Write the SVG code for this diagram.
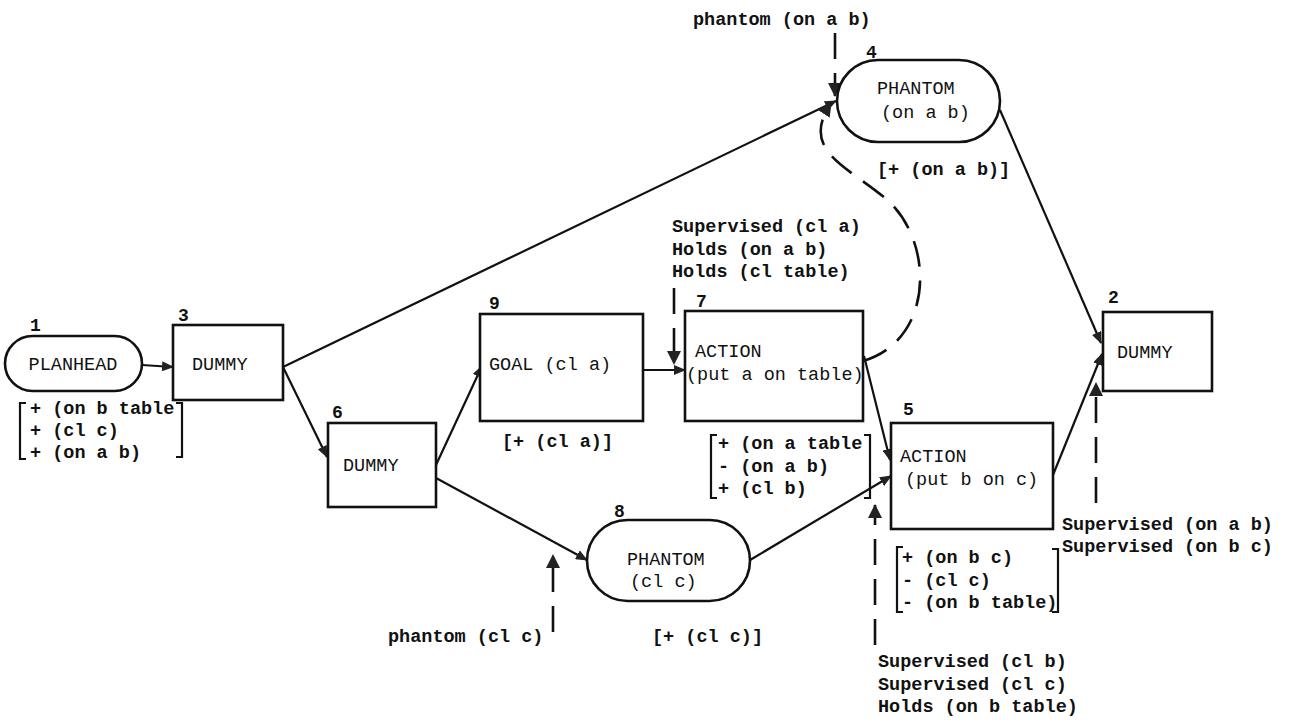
<svg xmlns="http://www.w3.org/2000/svg" width="1290" height="724" viewBox="0 0 1290 724">
<style>
.node{fill:#fff;stroke:#111;stroke-width:2.6}
.lbl{font-family:"Liberation Mono",monospace;font-size:18.5px;fill:#111}
.ann{font-family:"Liberation Mono",monospace;font-size:18.5px;font-weight:bold;fill:#111}
.num{font-family:"Liberation Mono",monospace;font-size:18px;font-weight:bold;fill:#111}
.edge{fill:none;stroke:#111;stroke-width:2.2}
.dash{fill:none;stroke:#111;stroke-width:2.6;stroke-dasharray:26 14}
.br{fill:none;stroke:#111;stroke-width:2.2}
</style>
<defs>
<marker id="ah" viewBox="0 0 12 10" refX="11" refY="5" markerWidth="12" markerHeight="10" markerUnits="userSpaceOnUse" orient="auto">
<path d="M0,0 L12,5 L0,10 Z" fill="#222"/>
</marker>
<marker id="ahb" viewBox="0 0 14 14" refX="13" refY="7" markerWidth="14" markerHeight="14" markerUnits="userSpaceOnUse" orient="auto">
<path d="M0,0 L14,7 L0,14 Z" fill="#222"/>
</marker>
</defs>
<rect width="1290" height="724" fill="#fff"/>

<g id="connectors">
<line class="edge" x1="142" y1="365" x2="173" y2="367" marker-end="url(#ah)"/>
<line class="edge" x1="283" y1="367" x2="327" y2="457" marker-end="url(#ah)"/>
<line class="edge" x1="283" y1="367" x2="836" y2="101" marker-end="url(#ah)"/>
<line class="edge" x1="436" y1="465" x2="482" y2="366" marker-end="url(#ah)"/>
<line class="edge" x1="436" y1="478" x2="587" y2="560" marker-end="url(#ah)"/>
<line class="edge" x1="643" y1="370" x2="685" y2="370" marker-end="url(#ah)"/>
<line class="edge" x1="864" y1="356" x2="890" y2="460" marker-end="url(#ah)"/>
<line class="edge" x1="750" y1="560" x2="891" y2="476" marker-end="url(#ah)"/>
<line class="edge" x1="1000" y1="110" x2="1101" y2="343" marker-end="url(#ah)"/>
<line class="edge" x1="1053" y1="475" x2="1102" y2="354" marker-end="url(#ah)"/>
<path class="dash" d="M863,361 C935,340 935,240 885,198 C845,165 800,150 831,103" marker-end="url(#ahb)"/>
<line class="dash" x1="835" y1="33" x2="835" y2="96" stroke-dasharray="30 10" marker-end="url(#ahb)"/>
<line class="dash" x1="674" y1="288" x2="674" y2="364" stroke-dasharray="36 10" marker-end="url(#ahb)"/>
<line class="dash" x1="553" y1="632" x2="553" y2="555" stroke-dasharray="36 10" marker-end="url(#ahb)"/>
<line class="dash" x1="875" y1="645" x2="875" y2="505" marker-end="url(#ahb)"/>
<line class="dash" x1="1096" y1="503" x2="1096" y2="383" marker-end="url(#ahb)"/>
</g>

<g id="n1">
<rect class="node" x="5" y="336" width="137" height="55" rx="27.5"/>
<text class="num" x="30" y="331">1</text>
<text class="lbl" x="73" y="370" text-anchor="middle">PLANHEAD</text>
</g>
<g id="n1-effects">
<path class="br" d="M26,403 H20 V459 H26"/>
<path class="br" d="M176,403 H182 V457 H176"/>
<text class="ann" x="30" y="414">+ (on b table</text>
<text class="ann" x="30" y="436">+ (cl c)</text>
<text class="ann" x="30" y="458">+ (on a b)</text>
</g>

<g id="n3">
<rect class="node" x="173" y="325" width="110" height="75"/>
<text class="num" x="178" y="321">3</text>
<text class="lbl" x="192" y="370">DUMMY</text>
</g>

<g id="n6">
<rect class="node" x="328" y="423" width="108" height="84"/>
<text class="num" x="332" y="418">6</text>
<text class="lbl" x="343" y="471">DUMMY</text>
</g>

<g id="n9">
<rect class="node" x="480" y="314" width="163" height="107"/>
<text class="num" x="489" y="309">9</text>
<text class="lbl" x="489" y="370">GOAL (cl a)</text>
<text class="ann" x="502" y="447">[+ (cl a)]</text>
</g>

<g id="n7">
<rect class="node" x="685" y="311" width="178" height="110"/>
<text class="num" x="696" y="307">7</text>
<text class="lbl" x="695" y="357">ACTION</text>
<text class="lbl" x="686" y="380">(put a on table)</text>
<text class="ann" x="672" y="232">Supervised (cl a)</text>
<text class="ann" x="672" y="255">Holds (on a b)</text>
<text class="ann" x="672" y="277">Holds (cl table)</text>
</g>
<g id="n7-effects">
<path class="br" d="M717,435 H711 V498 H717"/>
<path class="br" d="M864,435 H870 V498 H864"/>
<text class="ann" x="718" y="449">+ (on a table</text>
<text class="ann" x="718" y="472">- (on a b)</text>
<text class="ann" x="718" y="494">+ (cl b)</text>
</g>

<g id="n5">
<rect class="node" x="891" y="423" width="162" height="106"/>
<text class="num" x="903" y="415">5</text>
<text class="lbl" x="900" y="462">ACTION</text>
<text class="lbl" x="905" y="485">(put b on c)</text>
</g>
<g id="n5-effects">
<path class="br" d="M903,547 H897 V612 H903"/>
<path class="br" d="M1052,549 H1058 V612 H1052"/>
<text class="ann" x="902" y="563">+ (on b c)</text>
<text class="ann" x="902" y="586">- (cl c)</text>
<text class="ann" x="902" y="608">- (on b table)</text>
<text class="ann" x="878" y="667">Supervised (cl b)</text>
<text class="ann" x="878" y="690">Supervised (cl c)</text>
<text class="ann" x="878" y="712">Holds (on b table)</text>
</g>

<g id="n8">
<rect class="node" x="587" y="520" width="163" height="81" rx="40.5"/>
<text class="num" x="614" y="517">8</text>
<text class="lbl" x="627" y="565">PHANTOM</text>
<text class="lbl" x="630" y="587">(cl c)</text>
<text class="ann" x="652" y="642">[+ (cl c)]</text>
<text class="ann" x="388" y="642">phantom (cl c)</text>
</g>

<g id="n4">
<rect class="node" x="837" y="60" width="163" height="82" rx="41"/>
<text class="num" x="866" y="58">4</text>
<text class="lbl" x="877" y="94">PHANTOM</text>
<text class="lbl" x="881" y="118">(on a b)</text>
<text class="ann" x="877" y="175">[+ (on a b)]</text>
<text class="ann" x="693" y="25">phantom (on a b)</text>
</g>

<g id="n2">
<rect class="node" x="1103" y="312" width="109" height="79"/>
<text class="num" x="1108" y="303">2</text>
<text class="lbl" x="1117" y="358">DUMMY</text>
<text class="ann" x="1062" y="530">Supervised (on a b)</text>
<text class="ann" x="1062" y="552">Supervised (on b c)</text>
</g>
</svg>
